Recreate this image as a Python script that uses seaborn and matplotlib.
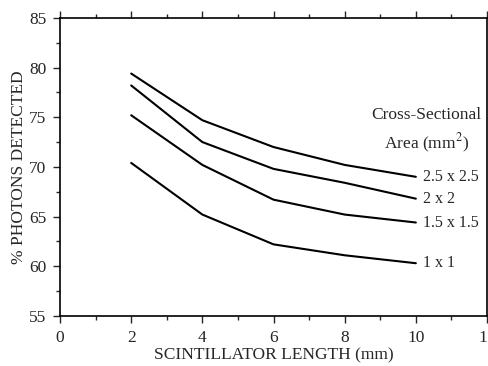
import numpy as np
import pandas as pd
import seaborn as sns
from matplotlib import pyplot as plt
from matplotlib.ticker import MultipleLocator

# scintillator length (mm)
lengths = [2, 4, 6, 8, 10]

# % photons detected for each cross-sectional area
area_labels = ["2.5 x 2.5", "2 x 2", "1.5 x 1.5", "1 x 1"]
pct_25 = [79.4, 74.7, 72.0, 70.2, 69.0]
pct_20 = [78.2, 72.5, 69.8, 68.4, 66.8]
pct_15 = [75.2, 70.2, 66.7, 65.2, 64.4]
pct_10 = [70.4, 65.2, 62.2, 61.1, 60.3]

x_ticks = [0, 2, 4, 6, 8, 10, 12]
x_tick_labels = ["0", "2", "4", "6", "8", "10", "1"]
y_ticks = [55, 60, 65, 70, 75, 80, 85]


def build_frame():
    series = [pct_25, pct_20, pct_15, pct_10]
    rows = []
    for label, values in zip(area_labels, series):
        for x, v in zip(lengths, values):
            rows.append({"length": x, "pct": v, "area": label})
    return pd.DataFrame(rows)


def main():
    sns.set_style("ticks")
    plt.rcParams['font.family'] = ['Liberation Serif', 'DejaVu Serif']
    plt.rcParams['mathtext.fontset'] = 'stix'

    df = build_frame()

    fig = plt.figure(figsize=(4.88, 3.66), dpi=100)
    ax = fig.add_axes([0.123, 0.137, 0.875, 0.814])

    sns.lineplot(data=df, x="length", y="pct", units="area", estimator=None,
                 color="black", linewidth=1.5, ax=ax, legend=False)

    # curve labels at the right end of each line
    for label, values in zip(area_labels, [pct_25, pct_20, pct_15, pct_10]):
        ax.text(lengths[-1] + 0.2, values[-1], label, fontsize=11.5,
                va="center", ha="left")

    ax.text(10.3, 75.2, "Cross-Sectional", fontsize=12.5, ha="center", va="center")
    ax.text(10.3, 72.4, "Area (mm$^2$)", fontsize=12.5, ha="center", va="center")

    ax.set_xlim(0, 12)
    ax.set_ylim(55, 85)
    ax.set_xticks(x_ticks)
    ax.set_xticklabels(x_tick_labels)
    ax.set_yticks(y_ticks)
    ax.xaxis.set_minor_locator(MultipleLocator(1))
    ax.yaxis.set_minor_locator(MultipleLocator(2.5))
    ax.tick_params(which="major", direction="out", length=5, width=1,
                   labelsize=12.5, pad=5, top=True, right=False)
    ax.tick_params(which="minor", direction="out", length=3, width=1,
                   top=True, right=False)
    # the last x tick label sits at the right edge of the figure
    ax.get_xticklabels()[-1].set_horizontalalignment("right")

    for side in ["left", "bottom", "top", "right"]:
        ax.spines[side].set_visible(True)
        ax.spines[side].set_linewidth(1.2)
        ax.spines[side].set_color("black")

    ax.set_xlabel("SCINTILLATOR LENGTH (mm)", fontsize=12.5, labelpad=1)
    ax.set_ylabel("% PHOTONS DETECTED", fontsize=12.5, labelpad=1)

    fig.savefig("out.png", dpi=100)


if __name__ == "__main__":
    main()
